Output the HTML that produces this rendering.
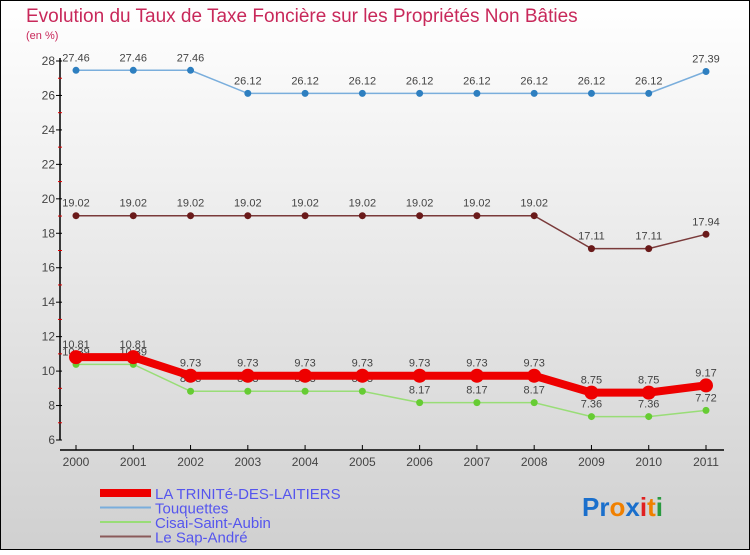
<!DOCTYPE html>
<html><head><meta charset="utf-8"><style>
html,body{margin:0;padding:0}
body{width:750px;height:550px;overflow:hidden;font-family:"Liberation Sans",sans-serif}
</style></head><body>
<svg id="chart" width="750" height="550" xmlns="http://www.w3.org/2000/svg">
<defs><linearGradient id="bg" x1="0" y1="0" x2="0" y2="1"><stop offset="0" stop-color="#ffffff"/><stop offset="1" stop-color="#d0d0d0"/></linearGradient></defs>
<rect x="0.5" y="0.5" width="749" height="549" fill="url(#bg)" stroke="#000"/>
<text x="26" y="22" font-size="19" fill="#c8285a">Evolution du Taux de Taxe Foncière sur les Propriétés Non Bâties</text>
<text x="26" y="39" font-size="11" fill="#c8285a">(en %)</text>
<g id="axes"></g>
<g id="series"></g>
<g id="legend" font-size="15" fill="#5555ee"></g>
<g font-size="26" font-weight="bold">
<text x="582" y="516" fill="#1a6fcc">Pr<tspan fill="#f08000">o</tspan><tspan fill="#1a6fcc">x</tspan><tspan fill="#e02020">i</tspan><tspan fill="#f08000">t</tspan><tspan fill="#2a9a40">i</tspan></text>
</g>
</svg>
<script>
const years=[2000,2001,2002,2003,2004,2005,2006,2007,2008,2009,2010,2011];
const trinite=[10.81,10.81,9.73,9.73,9.73,9.73,9.73,9.73,9.73,8.75,8.75,9.17];
const touquettes=[27.46,27.46,27.46,26.12,26.12,26.12,26.12,26.12,26.12,26.12,26.12,27.39];
const cisai=[10.39,10.39,8.83,8.83,8.83,8.83,8.17,8.17,8.17,7.36,7.36,7.72];
const sapandre=[19.02,19.02,19.02,19.02,19.02,19.02,19.02,19.02,19.02,17.11,17.11,17.94];
const yTicks=[6,8,10,12,14,16,18,20,22,24,26,28];
const NS="http://www.w3.org/2000/svg";
const xS=i=>76+i*(630/11);
const yS=v=>440-(v-6)*(379/22);
function mk(tag,attrs,parent){const e=document.createElementNS(NS,tag);for(const k in attrs)e.setAttribute(k,attrs[k]);parent.appendChild(e);return e;}
const axes=document.getElementById('axes');
let l=mk('line',{x1:60,y1:58,x2:60,y2:440,stroke:'#000','stroke-width':1.5},axes);


l=mk('line',{x1:60,y1:450,x2:724,y2:450,stroke:'#000','stroke-width':1.5},axes);


yTicks.forEach(v=>{
  mk('line',{x1:56,y1:yS(v),x2:62,y2:yS(v),stroke:'#000'},axes);
  if(v<28)mk('line',{x1:58,y1:yS(v+1),x2:62,y2:yS(v+1),stroke:'#e00000'},axes);
  const t=mk('text',{x:55,y:yS(v)+4,'text-anchor':'end','font-size':12,fill:'#444'},axes);
  t.textContent=v;
  
  
});
years.forEach((y,i)=>{
  mk('line',{x1:xS(i),y1:445,x2:xS(i),y2:450,stroke:'#000'},axes);
  const t=mk('text',{x:xS(i),y:466,'text-anchor':'middle','font-size':12,fill:'#444'},axes);
  t.textContent=y;
  
  
});
const ser=document.getElementById('series');
function draw(vals,name,color,dot,w,r){
  const g=mk('g',{},ser);
  
  
  mk('polyline',{points:vals.map((v,i)=>xS(i)+','+yS(v)).join(' '),fill:'none',stroke:color,'stroke-width':w},g);
  vals.forEach((v,i)=>{
    const c=mk('circle',{cx:xS(i),cy:yS(v),r:r,fill:dot},g);
    
    
    const t=mk('text',{x:xS(i),y:yS(v)-9,'text-anchor':'middle','font-size':11,fill:'#444'},g);
    t.textContent=v;
  });
}
draw(touquettes,'touquettes-series','#7aaedc','#2e7fc0',1.5,3.5);
draw(sapandre,'sap-andre-series','#7a3a3a','#6a1a1a',1.5,3.5);
draw(cisai,'cisai-series','#99dd77','#66cc33',1.5,3.5);
draw(trinite,'trinite-series','#ee0000','#ee0000',8,7);
const lg=document.getElementById('legend');
[['LA TRINITé-DES-LAITIERS','#ee0000',8],['Touquettes','#7aaedc',2],['Cisai-Saint-Aubin','#99dd77',2],['Le Sap-André','#8a5a5a',2]].forEach((d,i)=>{
  const y=493+i*14.5;
  const g=mk('g',{},lg);
  
  
  mk('line',{x1:100,y1:y,x2:151,y2:y,stroke:d[1],'stroke-width':d[2]},g);
  const t=mk('text',{x:155,y:y+6},g);
  t.textContent=d[0];
});
</script>
</body></html>
